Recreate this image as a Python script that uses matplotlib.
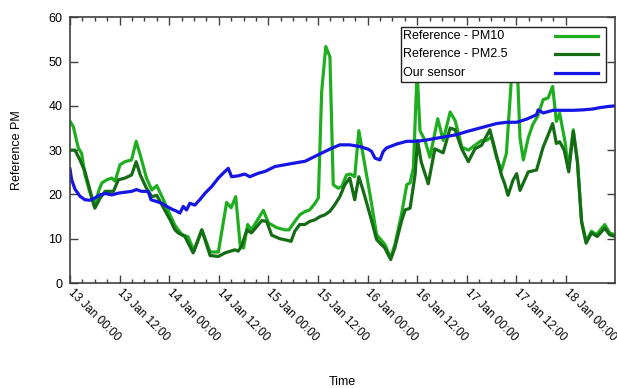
import numpy as np
import pandas as pd
import matplotlib
matplotlib.use('Agg')
import matplotlib.pyplot as plt
import matplotlib.dates as mdates
from matplotlib.patches import Rectangle
from matplotlib.lines import Line2D

plt.rcParams['font.family'] = ['Liberation Sans', 'DejaVu Sans']
plt.rcParams['font.size'] = 9

start = pd.Timestamp('2016-01-13 00:00')

# reference monitor, PM10 (hours since 13 Jan 00:00, ug/m3)
pm10_hours = [0, 0.8, 2.0, 2.8, 3.6, 4.8, 5.9, 7.0, 7.7, 8.9, 10.1, 10.9, 12.1, 13.3,
              14.9, 16.0, 17.0, 18.5, 19.8, 21.0, 22.6, 24.2, 25.4, 27.0, 28.6, 30.0,
              31.9, 33.9, 35.9, 37.9, 39.0, 40.1, 41.2, 42.0, 43.0, 43.9, 46.8, 48.0,
              50.0, 52.0, 53.0, 54.4, 55.6, 56.8, 58.0, 59.3, 60.1, 60.9, 61.9, 62.9,
              63.7, 64.9, 65.8, 66.9, 67.9, 68.9, 69.9, 70.9, 72.6, 74.2, 76.2, 77.6,
              78.6, 80.2, 81.5, 82.3, 83.1, 84.0, 84.7, 85.9, 87.1, 89.0, 90.3, 92.0,
              93.2, 94.8, 96.4, 98.0, 99.6, 100.8, 102.0, 103.2, 104.4, 105.6, 106.6,
              107.2, 108.2, 108.9, 109.7, 110.9, 112.0, 113.2, 114.5, 115.7, 116.8,
              117.7, 118.5, 119.8, 120.6, 121.8, 122.8, 123.8, 124.9, 126.2, 127.4,
              129.4, 130.6, 131.9]
pm10 = [36.5, 35.3, 30.5, 29.3, 24.5, 20.5, 17.3, 21.0, 22.6, 23.3, 23.7, 23.0, 26.7, 27.4,
        27.8, 32.0, 28.9, 23.7, 21.0, 22.0, 18.8, 15.4, 13.0, 11.0, 10.4, 7.2,
        12.0, 7.0, 7.0, 18.2, 17.0, 19.5, 8.3, 7.9, 13.2, 12.0, 16.4, 13.6,
        12.5, 12.0, 12.0, 13.9, 15.4, 16.1, 16.5, 18.0, 19.2, 43.2, 53.4, 51.1,
        22.2, 21.4, 21.8, 24.4, 24.6, 24.0, 34.4, 29.0, 20.0, 10.9, 8.7, 5.7,
        8.6, 15.4, 22.2, 22.6, 26.0, 48.0, 34.4, 32.2, 28.4, 37.1, 32.2, 38.6,
        36.7, 30.7, 30.0, 31.1, 32.2, 32.2, 33.0, 28.4, 25.4, 29.2, 43.0,
        52.0, 50.0, 32.8, 27.8, 32.8, 35.8, 37.7, 41.4, 41.8, 44.4,
        36.5, 38.3, 31.9, 25.9, 34.6, 27.4, 13.9, 9.4, 11.7, 10.9,
        13.2, 11.3, 10.9]

# reference monitor, PM2.5
pm25_hours = [0, 1.2, 2.4, 3.6, 4.8, 6.0, 7.3, 8.5, 10.5, 11.7, 13.3, 14.9, 16.0, 17.0,
              18.5, 19.8, 21.0, 22.6, 24.2, 25.4, 26.2, 27.8, 29.8, 31.9, 33.9, 35.9,
              37.5, 39.9, 40.7, 41.5, 42.8, 43.9, 46.4, 47.6, 48.8, 50.8, 52.8, 53.5,
              54.4, 55.6, 56.8, 58.0, 59.3, 60.5, 61.7, 62.9, 64.1, 65.3, 66.5, 67.7,
              68.9, 69.9, 70.9, 72.6, 74.2, 76.2, 77.6, 78.6, 80.2, 81.1, 82.3, 83.5,
              84.1, 85.0, 86.7, 88.3, 90.3, 92.0, 93.2, 94.8, 96.4, 98.0, 99.6, 101.6,
              102.8, 104.4, 105.2, 106.0, 107.2, 108.1, 108.9, 110.9, 112.9, 114.5,
              115.7, 116.8, 117.7, 118.5, 119.6, 120.7, 121.8, 122.8, 123.8, 124.9,
              126.2, 127.6, 129.4, 130.6, 131.9]
pm25 = [30.0, 30.0, 27.8, 25.2, 21.0, 16.9, 19.2, 20.7, 20.7, 23.3, 23.7, 24.4, 27.4, 24.4,
        21.4, 19.5, 19.8, 17.0, 14.3, 12.0, 11.3, 10.5, 6.8, 12.0, 6.2, 6.0,
        6.8, 7.5, 7.2, 8.3, 12.0, 11.3, 14.1, 13.9, 10.8, 10.0, 9.6, 9.4,
        11.7, 13.2, 13.2, 13.9, 14.3, 15.0, 15.4, 16.2, 17.7, 19.5, 22.2, 23.7,
        18.8, 24.0, 21.0, 15.4, 9.8, 7.9, 5.3, 7.9, 13.9, 16.5, 16.9, 24.4,
        32.2, 27.3, 22.4, 30.3, 29.4, 35.0, 34.6, 30.3, 27.4, 30.3, 31.1, 34.6,
        30.3, 24.4, 22.4, 19.8, 23.2, 24.7, 20.9, 25.1, 25.5, 30.7,
        33.4, 36.0, 31.5, 31.9, 30.0, 25.1, 34.2, 27.4, 13.9, 9.0,
        11.3, 10.5, 12.4, 10.9, 10.5]

# low-cost sensor
sensor_hours = [0, 0.4, 1.2, 2.4, 3.6, 4.8, 6.0, 7.3, 8.5, 10.1, 11.7, 13.3, 14.9, 16.1,
                17.3, 18.9, 19.6, 21.0, 22.2, 23.4, 24.6, 25.8, 26.6, 27.4, 28.2, 29.0,
                30.2, 31.4, 32.7, 34.3, 35.9, 37.5, 38.3, 39.1, 40.7, 42.3, 43.5, 45.6,
                47.2, 49.6, 52.0, 54.4, 56.9, 59.3, 61.7, 63.3, 65.3, 67.7, 70.2, 72.2,
                73.0, 73.8, 75.0, 75.8, 76.6, 79.1, 81.5, 83.9, 86.3, 88.7, 91.2, 93.6,
                96.0, 98.4, 100.8, 103.2, 105.7, 108.1, 110.5, 112.9, 113.3, 114.5,
                116.9, 119.4, 121.8, 124.2, 126.6, 128.2, 130.6, 131.9]
sensor = [25.7, 23.3, 21.2, 19.6, 18.8, 18.7, 19.2, 19.9, 20.2, 19.9, 20.3, 20.5, 20.7, 21.1,
          20.7, 20.7, 18.8, 18.4, 18.0, 17.3, 16.7, 16.2, 15.8, 17.3, 16.5, 18.0,
          17.6, 18.8, 20.3, 21.8, 23.7, 25.2, 25.9, 24.0, 24.2, 24.6, 24.0, 24.8,
          25.2, 26.3, 26.7, 27.1, 27.5, 28.6, 29.7, 30.4, 31.2, 31.2, 30.8, 30.2,
          29.7, 28.2, 27.8, 29.7, 30.5, 31.4, 32.0, 32.0, 32.3, 32.7, 33.1, 33.5,
          34.2, 34.8, 35.4, 36.0, 36.3, 36.3, 37.0, 38.0, 39.1, 38.4,
          39.0, 39.0, 39.0, 39.1, 39.3, 39.6, 39.9, 40.0]

c_pm10 = '#1fae1f'
c_pm25 = '#146c14'
c_sensor = '#1515e6'


def to_time(hours):
    return start + pd.to_timedelta(np.array(hours), unit='h')


fig = plt.figure(figsize=(6.17, 3.88), dpi=100)
ax = fig.add_axes([0.1135, 0.2706, 0.8833, 0.6848])

ax.plot(to_time(pm10_hours), pm10, color=c_pm10, lw=2.3)
ax.plot(to_time(pm25_hours), pm25, color=c_pm25, lw=2.3)
ax.plot(to_time(sensor_hours), sensor, color=c_sensor, lw=2.3)

ax.set_xlim(start, start + pd.Timedelta(hours=131.9))
ax.set_ylim(0, 60)
ax.set_yticks(range(0, 61, 10))

ax.xaxis.set_major_locator(mdates.HourLocator(byhour=[0, 12]))
ax.xaxis.set_major_formatter(mdates.DateFormatter('%d %b %H:%M'))
minor = pd.date_range(start, start + pd.Timedelta(hours=120), freq='3h')
ax.xaxis.set_minor_locator(matplotlib.ticker.FixedLocator(mdates.date2num(minor)))

ax.tick_params(which='both', direction='in', top=True, right=True, color='#404040')
ax.tick_params(which='major', length=6, width=1.0)
ax.tick_params(which='minor', length=3, width=1.0)
ax.tick_params(axis='y', pad=5.5)
ax.tick_params(axis='x', pad=6, labelsize=8.5)
plt.setp(ax.get_xticklabels(), rotation=-45, ha='left', va='center', rotation_mode='anchor')

for s in ax.spines.values():
    s.set_color('#404040')
    s.set_linewidth(1.2)

ax.set_xlabel('Time')
ax.xaxis.set_label_coords(0.5, -0.35)
ax.set_ylabel('Reference PM')
ax.yaxis.set_label_coords(-0.087, 0.5)

# key box, text on the left and line samples on the right
ax.add_patch(Rectangle((0.607, 0.7565), 0.376, 0.207, transform=ax.transAxes,
                       facecolor='white', edgecolor='#222222', lw=1.0, zorder=5))
labels = ['Reference - PM10', 'Reference - PM2.5', 'Our sensor']
colors = [c_pm10, c_pm25, c_sensor]
rows = [0.9296, 0.8619, 0.7915]
for lab, col, y in zip(labels, colors, rows):
    ax.text(0.611, y, lab, transform=ax.transAxes, ha='left', va='center', zorder=6)
    ax.add_line(Line2D([0.890, 0.969], [y, y], transform=ax.transAxes,
                       color=col, lw=2.3, zorder=6))

fig.savefig('out.png', dpi=100)
